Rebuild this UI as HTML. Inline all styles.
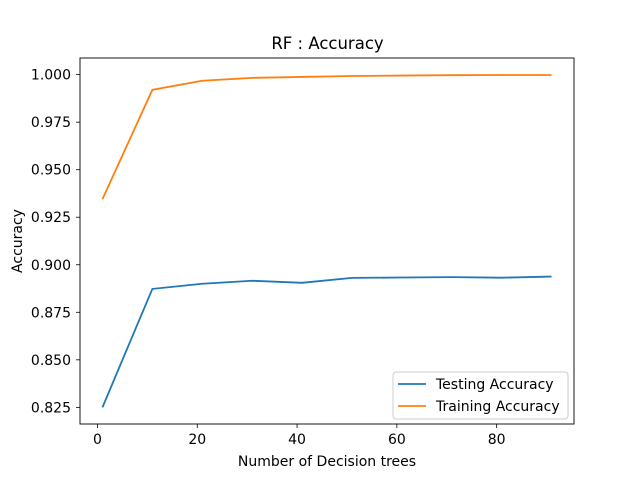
<!DOCTYPE html>
<html><head><meta charset="utf-8"><style>
body{margin:0;background:#fff;}
svg{display:block;font-family:"DejaVu Sans","Liberation Sans",sans-serif;}
</style></head><body>
<svg id="chart" width="638" height="479">
<rect width="638" height="479" fill="#fff"/>
<g id="plot"></g>
</svg>
<script>
const trees = [1,11,21,31,41,51,61,71,81,91];
const testingAcc = [0.825,0.8873,0.8900,0.8916,0.8905,0.8931,0.8933,0.8935,0.8932,0.8938];
const trainingAcc = [0.9345,0.9920,0.9968,0.9983,0.9988,0.9993,0.9995,0.9997,0.9998,0.9998];
const xTicks = [0,20,40,60,80];
const yTicks = [0.825,0.850,0.875,0.900,0.925,0.950,0.975,1.000];
const L=80,R=574,T=58,B=424;
const xMin=-3.5,xMax=95.5,yMin=0.81625,yMax=1.00875;
const xs=v=>L+(v-xMin)/(xMax-xMin)*(R-L);
const ys=v=>B-(v-yMin)/(yMax-yMin)*(B-T);
const NS="http://www.w3.org/2000/svg";
const g=document.getElementById('plot');
function mk(tag,attrs,text){const e=document.createElementNS(NS,tag);for(const k in attrs)e.setAttribute(k,attrs[k]);if(text!==undefined)e.textContent=text;g.appendChild(e);return e;}
xTicks.forEach(t=>{
  const x=xs(t);
  const l=mk('line',{x1:x,x2:x,y1:B,y2:B+4,stroke:'#000','stroke-width':0.8});
  
  
  const s=mk('text',{x:x,y:B+20,'font-size':14,'text-anchor':'middle'},String(t));
  
  
});
yTicks.forEach(t=>{
  const y=ys(t);
  const l=mk('line',{x1:L-4,x2:L,y1:y,y2:y,stroke:'#000','stroke-width':0.8});
  
  
  const s=mk('text',{x:L-9,y:y+5,'font-size':14,'text-anchor':'end'},t.toFixed(3));
  
  
});
function series(vals,color,name){
  const p=mk('polyline',{points:trees.map((t,i)=>xs(t)+','+ys(vals[i])).join(' '),fill:'none',stroke:color,'stroke-width':1.8});
  
  
}
series(testingAcc,'#1f77b4','testing-accuracy-line');
series(trainingAcc,'#ff7f0e','training-accuracy-line');
const fr=mk('rect',{x:L,y:T,width:R-L,height:B-T,fill:'none',stroke:'#000','stroke-width':0.9});


const ti=mk('text',{x:(L+R)/2+0.5,y:49,'font-size':16.5,'text-anchor':'middle'},'RF : Accuracy');


const xl=mk('text',{x:(L+R)/2,y:466,'font-size':14,'text-anchor':'middle'},'Number of Decision trees');


const yl=mk('text',{x:22,y:(T+B)/2,'font-size':14,'text-anchor':'middle',transform:'rotate(-90 22 '+((T+B)/2)+')'},'Accuracy');


const lg=mk('rect',{x:393,y:372,width:175,height:47,rx:3,fill:'#fff','fill-opacity':0.8,stroke:'#ccc','stroke-width':1});


[['Testing Accuracy','#1f77b4',384],['Training Accuracy','#ff7f0e',406]].forEach(([n,c,y])=>{
  const l=mk('line',{x1:398,x2:426,y1:y,y2:y,stroke:c,'stroke-width':1.8});
  
  
  const s=mk('text',{x:436,y:y+5,'font-size':14},n);
  
  
});
</script>
</body></html>
